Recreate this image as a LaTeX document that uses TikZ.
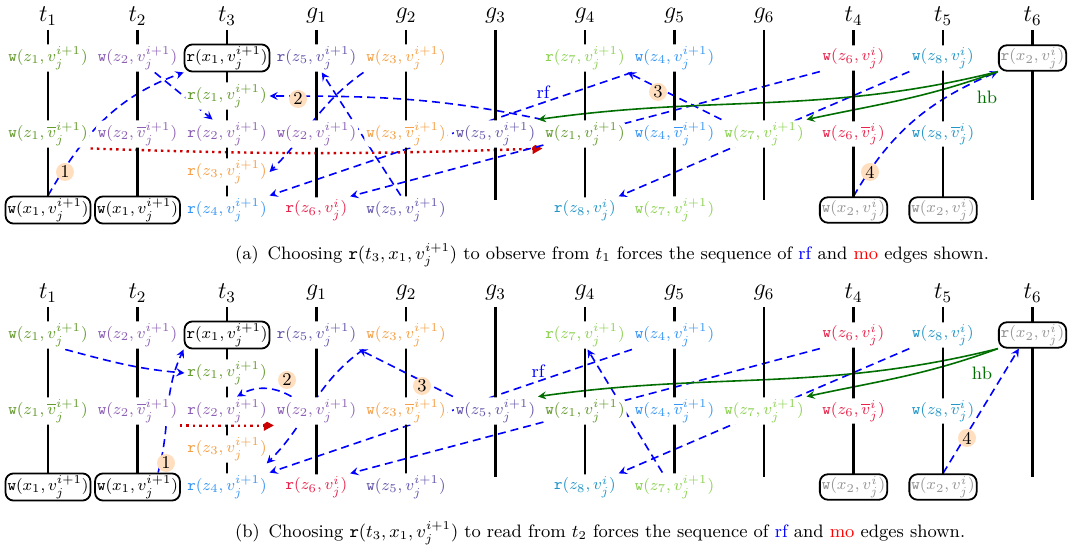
\documentclass[tikz,border=0pt]{standalone}
\usetikzlibrary{arrows.meta,backgrounds}
\definecolor{zgreen}{RGB}{100,155,45}
\definecolor{zpurple}{RGB}{140,95,180}
\definecolor{zorange}{RGB}{245,160,70}
\definecolor{zblue}{RGB}{55,150,245}
\definecolor{zslate}{RGB}{100,85,170}
\definecolor{zred}{RGB}{232,35,75}
\definecolor{zlime}{RGB}{140,210,80}
\definecolor{zteal}{RGB}{35,150,200}
\definecolor{xgray}{RGB}{150,150,150}
\definecolor{hbgreen}{RGB}{0,110,0}
\newcommand{\evt}[3]{\texttt{#1}$(#2, #3)$}

\begin{document}
\begin{tikzpicture}[x=0.5pt, y=0.5pt, >=stealth,
    every node/.style={font=\small},
    head/.style={font=\large, inner sep=1pt},
    thread/.style={line width=1.3pt},
    lbl/.style={font=\footnotesize, fill=white, inner sep=1pt, rounded corners=4pt, line width=0.9pt},
    num/.style={circle, fill=orange!25, inner sep=0pt, minimum size=9pt},
    caption/.style={font=\small, anchor=west},
    rfedge/.style={->, blue, thick, dash pattern=on 4pt off 2.5pt},
    moedge/.style={-{Triangle[length=5pt,width=5pt]}, red!80!black, very thick, dotted},
    hbedge/.style={->, hbgreen, thick}]
\useasboundingbox (0,0) rectangle (1081,-555);

% two copies of the same threads and events
\foreach \p/\dy in {a/0, b/-277} {
    \foreach \h [count=\c] in {t_1,t_2,t_3,g_1,g_2,g_3,g_4,g_5,g_6,t_4,t_5,t_6} {
        \node[head] (\p-h\c) at ({48+89.5*(\c-1)}, {-16+\dy}) {$\h$};
        \draw[thread] ({48+89.5*(\c-1)}, {-30+\dy}) -- ({48+89.5*(\c-1)}, {-200+\dy});
    }
    \foreach \c/\r/\bd/\col/\txt in {
        1/1/none/zgreen/{\evt{w}{z_1}{v_j^{i+1}}},
        1/3/none/zgreen/{\evt{w}{z_1}{\overline{v}_j^{i+1}}},
        1/5/black/black/{\evt{w}{x_1}{v_j^{i+1}}},
        2/1/none/zpurple/{\evt{w}{z_2}{v_j^{i+1}}},
        2/3/none/zpurple/{\evt{w}{z_2}{\overline{v}_j^{i+1}}},
        2/5/black/black/{\evt{w}{x_1}{v_j^{i+1}}},
        3/1/black/black/{\evt{r}{x_1}{v_j^{i+1}}},
        3/2/none/zgreen/{\evt{r}{z_1}{v_j^{i+1}}},
        3/3/none/zpurple/{\evt{r}{z_2}{v_j^{i+1}}},
        3/4/none/zorange/{\evt{r}{z_3}{v_j^{i+1}}},
        3/5/none/zblue/{\evt{r}{z_4}{v_j^{i+1}}},
        4/1/none/zslate/{\evt{r}{z_5}{v_j^{i+1}}},
        4/3/none/zpurple/{\evt{w}{z_2}{v_j^{i+1}}},
        4/5/none/zred/{\evt{r}{z_6}{v_j^{i}}},
        5/1/none/zorange/{\evt{w}{z_3}{v_j^{i+1}}},
        5/3/none/zorange/{\evt{w}{z_3}{\overline{v}_j^{i+1}}},
        5/5/none/zslate/{\evt{w}{z_5}{v_j^{i+1}}},
        6/3/none/zslate/{\evt{w}{z_5}{v_j^{i+1}}},
        7/1/none/zlime/{\evt{r}{z_7}{v_j^{i+1}}},
        7/3/none/zgreen/{\evt{w}{z_1}{v_j^{i+1}}},
        7/5/none/zteal/{\evt{r}{z_8}{v_j^{i}}},
        8/1/none/zblue/{\evt{w}{z_4}{v_j^{i+1}}},
        8/3/none/zblue/{\evt{w}{z_4}{\overline{v}_j^{i+1}}},
        8/5/none/zlime/{\evt{w}{z_7}{v_j^{i+1}}},
        9/3/none/zlime/{\evt{w}{z_7}{v_j^{i+1}}},
        10/1/none/zred/{\evt{w}{z_6}{v_j^{i}}},
        10/3/none/zred/{\evt{w}{z_6}{\overline{v}_j^{i}}},
        10/5/black/xgray/{\evt{w}{x_2}{v_j^{i}}},
        11/1/none/zteal/{\evt{w}{z_8}{v_j^{i}}},
        11/3/none/zteal/{\evt{w}{z_8}{\overline{v}_j^{i}}},
        11/5/black/xgray/{\evt{w}{x_2}{v_j^{i}}},
        12/1/black/xgray/{\evt{r}{x_2}{v_j^{i}}}} {
        \node[lbl, draw=\bd, text=\col] (\p-\c-\r) at ({48+89.5*(\c-1)}, {-58-38*(\r-1)+\dy}) {\txt};
    }
}

% (a) edges
\node[num] (a-n1) at (65,-172) {1};
\node[num] (a-n2) at (298,-99) {2};
\node[num] (a-n3) at (658,-92) {3};
\node[num] (a-n4) at (870,-172) {4};
\node[blue] (a-rf) at (543,-92) {rf};
\node[hbgreen] (a-hb) at (987,-97) {hb};
\begin{scope}[on background layer]
    \draw[rfedge] (a-1-5.north) to[out=60, in=200] (a-3-1.south west);
    \draw[moedge] (a-1-3.south east) to[bend right=2] (a-7-3.south west);
    \draw[rfedge] (a-2-1.-40) -- (a-3-3.135);
    \draw[rfedge] (a-7-3.north west) to[out=168, in=0] (a-3-2.east);
    \draw[rfedge] (a-5-1.south west) to[out=215, in=45] (a-3-4.east);
    \draw[rfedge] (a-5-5.110) -- (a-4-1.-70);
    \draw[rfedge] (a-8-1.south west) -- (a-3-5.north east);
    \draw[rfedge] (a-10-1.south west) -- (a-4-5.north east);
    \draw[rfedge] (a-9-3.north west) -- (a-7-1.south east);
    \draw[rfedge] (a-11-1.south west) -- (a-7-5.north east);
    \draw[rfedge] (a-10-5.north) to[out=60, in=203] (a-12-1.south west);
    \draw[hbedge] (a-12-1.south west) to[out=194, in=8] (a-6-3.north east);
    \draw[hbedge] (a-12-1.south west) to[out=200, in=12] (a-9-3.north east);
\end{scope}
\node[caption] (a-cap) at (228,-255) {(a)\enspace Choosing \evt{r}{t_3, x_1}{v_j^{i+1}} to observe from $t_1$ forces the sequence of \textcolor{blue}{rf} and \textcolor{red}{mo} edges shown.};

% (b) edges
\node[num] (b-n1) at (166,-463) {1};
\node[num] (b-n2) at (287,-380) {2};
\node[num] (b-n3) at (422,-386) {3};
\node[num] (b-n4) at (967,-438) {4};
\node[blue] (b-rf) at (538,-371) {rf};
\node[hbgreen] (b-hb) at (982,-373) {hb};
\begin{scope}[on background layer]
    \draw[rfedge] (b-1-1.-40) to[out=-15, in=175] (b-3-2.west);
    \draw[rfedge] (b-2-5.35) to[out=75, in=-115] (b-3-1.south west);
    \draw[moedge] (b-2-3.south east) -- (b-4-3.south west);
    \draw[rfedge] (b-4-3.150) to[bend right=30] (b-3-3.55);
    \draw[rfedge] (b-5-1.south west) to[out=215, in=45] (b-3-4.-20);
    \draw[rfedge] (b-6-3.north west) -- (b-4-1.south east);
    \draw[rfedge] (b-8-1.south west) -- (b-3-5.north east);
    \draw[rfedge] (b-10-1.south west) -- (b-4-5.north east);
    \draw[rfedge] (b-8-5.130) -- (b-7-1.-80);
    \draw[rfedge] (b-11-1.south west) -- (b-7-5.north east);
    \draw[rfedge] (b-11-5.north) -- (b-12-1.-135);
    \draw[hbedge] (b-12-1.south west) to[out=194, in=8] (b-6-3.north east);
    \draw[hbedge] (b-12-1.south west) to[out=200, in=12] (b-9-3.north east);
\end{scope}
\node[caption] (b-cap) at (228,-533) {(b)\enspace Choosing \evt{r}{t_3, x_1}{v_j^{i+1}} to read from $t_2$ forces the sequence of \textcolor{blue}{rf} and \textcolor{red}{mo} edges shown.};
\end{tikzpicture}
\end{document}
